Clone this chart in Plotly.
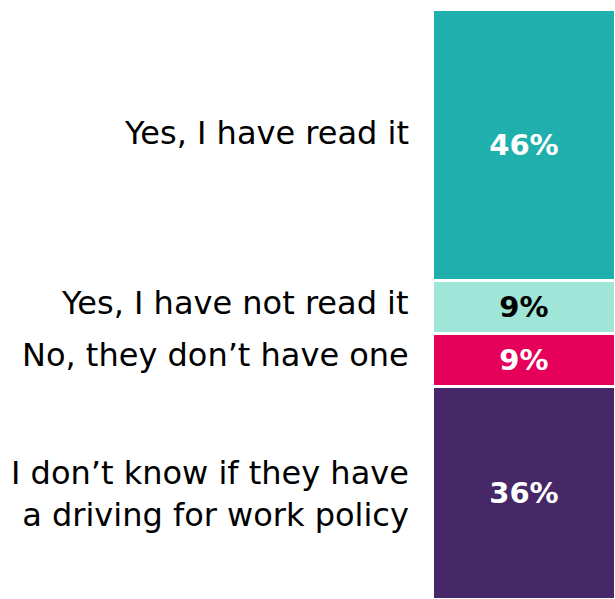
import plotly.graph_objects as go

categories = ["I don’t know if they have<br>a driving for work policy",
              "No, they don’t have one",
              "Yes, I have not read it",
              "Yes, I have read it"]
values = [36, 9, 9, 46]
colors = ["#462767", "#E5005A", "#A0E6D8", "#1FB0AE"]
text_colors = ["white", "white", "black", "white"]
label_shift = [-1, 5, 4, 12]

fig = go.Figure()
for cat, v, c, tc in zip(categories, values, colors, text_colors):
    fig.add_trace(go.Bar(
        x=[0], y=[v], width=1, name=cat,
        marker=dict(color=c, line=dict(color="white", width=3)),
        text=[f"{v}%"], textposition="inside", insidetextanchor="middle",
        textangle=0,
        textfont=dict(family="DejaVu Sans", size=29, color=tc, weight="bold"),
        hoverinfo="skip",
    ))

annotations = []
cum = 0
for cat, v, s in zip(categories, values, label_shift):
    mid = cum + v / 2
    cum += v
    annotations.append(dict(
        x=0, xref="paper", xanchor="right", xshift=-21,
        y=mid, yref="y", yanchor="middle", yshift=s,
        text=cat, showarrow=False, align="right",
        font=dict(family="DejaVu Sans", size=32, color="black"),
    ))

fig.update_layout(
    barmode="stack", showlegend=False,
    width=615, height=599,
    margin=dict(l=432, r=0, t=9, b=0),
    paper_bgcolor="white", plot_bgcolor="white",
    xaxis=dict(range=[-0.5, 0.495], visible=False, fixedrange=True),
    yaxis=dict(range=[0, 100], visible=False, fixedrange=True),
    annotations=annotations,
    uniformtext=dict(minsize=29, mode="show"),
)
fig.write_html("out.html")
